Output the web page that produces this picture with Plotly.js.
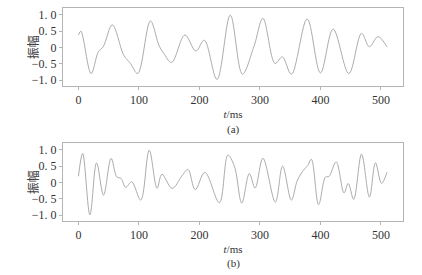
<!DOCTYPE html>
<html><head><meta charset="utf-8">
<script src="https://cdn.plot.ly/plotly-3.0.1.min.js"></script>
<style>html,body{margin:0;padding:0;background:#fff;}#plot{width:422px;height:275px;}</style>
</head><body><div id="plot"></div>
<script>
// (a) waveform
var timeA = [0,4,21,33,41,56,75,86,98,119,133,141,154,176,194,208,229,251,271,290,305,325,337,352,378,400,421,447,468,481,495,510];
var ampA  = [0.38,0.5,-0.8,-0.13,0.02,0.69,-0.24,-0.49,-0.8,0.81,0.07,-0.18,-0.46,0.38,-0.11,0.22,-0.98,0.99,-0.82,0.02,0.89,-0.49,-0.29,-0.82,0.87,-0.78,0.56,-0.8,0.43,0.02,0.33,0.02];
// (b) waveform
var timeB = [0,7,19,30,41.5,54,63.5,70.5,78,88,103,117,130,138,155,171,181,193,209,233,247,258,270,282.5,292,305,325.5,337.5,352,362,373,378.5,385,397,408.5,414,426,439,446,455,468,481,491,501,510];
var ampB  = [0.19,0.89,-0.99,0.6,-0.39,0.74,0.17,0.12,-0.15,0.02,-0.54,0.99,-0.18,0.25,-0.18,0.2,0.4,-0.22,0.31,-0.62,0.84,0.48,-0.63,0.27,-0.17,0.74,-0.6,0.5,-0.54,0.07,0.4,0.5,0.71,-0.68,0.17,0.18,0.63,-0.32,-0.03,-0.52,0.87,-0.45,0.6,-0.03,0.31];

var xTickVals = [0,100,200,300,400,500];
var xTickText = ["0","100","200","300","400","500"];
var yTickVals = [1,0.5,0,-0.5,-1];
var yTickText = ["1. 0","0. 5","0","\u22120. 5","\u22121. 0"];
var xTitle = "<i>t</i>/ms";
var yTitle = "振幅";
var panelLabels = ["(a)","(b)"];

var lineColor = "#acacac";
var frameColor = "#b4b4b4";
var txtFont = {family: "Liberation Serif", size: 12, color: "#333"};
var smallFont = {family: "Liberation Serif", size: 11, color: "#333"};
var cjkFont = {family: "Noto Sans CJK SC", size: 12, color: "#444"};

var traces = [
  {x: timeA, y: ampA, xaxis: "x", yaxis: "y", mode: "lines", line: {color: lineColor, width: 1, shape: "spline", smoothing: 1}, hoverinfo: "skip"},
  {x: timeB, y: ampB, xaxis: "x2", yaxis: "y2", mode: "lines", line: {color: lineColor, width: 1, shape: "spline", smoothing: 1}, hoverinfo: "skip"}
];

function xax(anchor) {
  return {anchor: anchor, domain: [0,1], range: [-25.5, 536.5], tickvals: xTickVals, ticktext: xTickText,
    showline: true, mirror: true, linecolor: frameColor, linewidth: 1, ticks: "outside", ticklen: 3, tickcolor: frameColor,
    showgrid: false, zeroline: false, tickfont: txtFont,
    title: {text: xTitle, font: smallFont, standoff: 3}};
}
function yax(anchor, dom) {
  return {anchor: anchor, domain: dom, range: [-1.18, 1.2], tickvals: yTickVals, ticktext: yTickText,
    showline: true, mirror: true, linecolor: frameColor, linewidth: 1, ticks: "outside", ticklen: 3, tickcolor: frameColor,
    showgrid: false, zeroline: false, tickfont: txtFont};
}

var layout = {
  width: 422, height: 275,
  margin: {l: 63, r: 19, t: 8, b: 54},
  paper_bgcolor: "#fff", plot_bgcolor: "#fff",
  showlegend: false,
  font: txtFont,
  xaxis: xax("y"),
  yaxis: yax("x", [0.634, 0.999]),
  xaxis2: xax("y2"),
  yaxis2: yax("x2", [0, 0.365]),
  annotations: [
    {text: panelLabels[0], xref: "paper", yref: "paper", x: 0.5, y: 0.428, xanchor: "center", yanchor: "middle", showarrow: false, font: smallFont},
    {text: panelLabels[1], xref: "paper", yref: "paper", x: 0.5, y: -0.199, xanchor: "center", yanchor: "middle", showarrow: false, font: smallFont},
    {text: yTitle, xref: "paper", yref: "paper", x: -0.091, y: 0.8165, xanchor: "center", yanchor: "middle", textangle: -90, showarrow: false, font: cjkFont},
    {text: yTitle, xref: "paper", yref: "paper", x: -0.091, y: 0.1825, xanchor: "center", yanchor: "middle", textangle: -90, showarrow: false, font: cjkFont}
  ]
};

Plotly.newPlot("plot", traces, layout, {staticPlot: true, displayModeBar: false});
</script></body></html>
